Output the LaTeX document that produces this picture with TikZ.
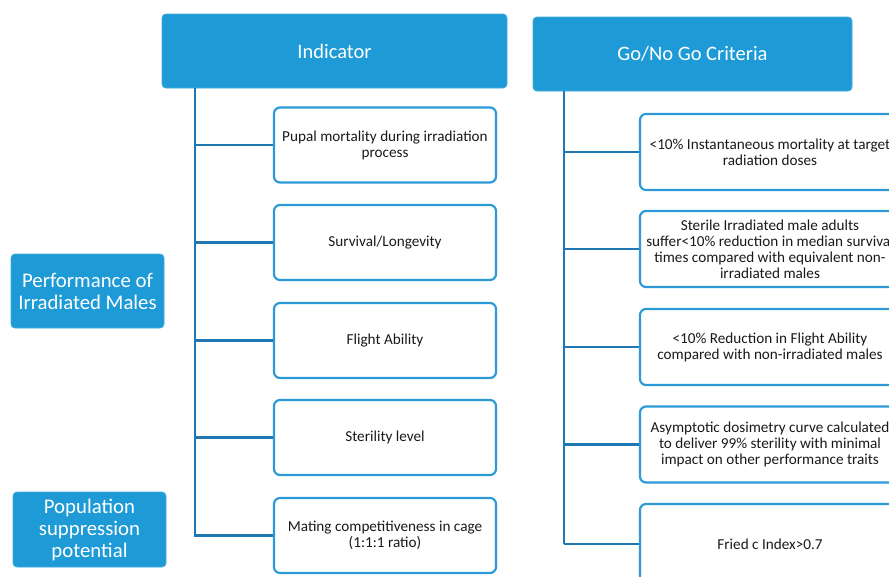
\documentclass[tikz,border=0pt]{standalone}
\usepackage{fontspec}
\setmainfont{Carlito}
\definecolor{hdr}{HTML}{1E9BD7}
\definecolor{edge}{HTML}{2B9AD6}
\definecolor{conn}{HTML}{1F78B4}
\definecolor{txt}{HTML}{1A1A1A}
\begin{document}
\begin{tikzpicture}[x=1pt,y=-1pt,
  hdrbox/.style={fill=hdr, draw=hdr!85!white, line width=0.8pt, rounded corners=4pt, align=center, text=white, inner sep=0pt},
  hdrfont/.style={font=\fontsize{20.5}{22}\selectfont},
  sidefont/.style={font=\fontsize{20.8}{22}\selectfont},
  itembox/.style={draw=edge, line width=2.2pt, fill=white, rounded corners=6pt, align=center, text=txt, font=\fontsize{15.2}{16}\selectfont, inner sep=0pt},
  link/.style={draw=conn, line width=2.2pt}]
\path[use as bounding box] (0,0) rectangle (889,576);
\clip (0,0) rectangle (889,576);
\fill[white] (0,0) rectangle (889,576);

% headers
\node[hdrbox, hdrfont, minimum width=345pt, minimum height=74pt] (ind) at (334.5,51) {Indicator};
\node[hdrbox, hdrfont, minimum width=319pt, minimum height=74pt] (go) at (692.5,54) {Go/No Go Criteria};
\node[hdrbox, sidefont, minimum width=153pt, minimum height=74pt] (perf) at (87.5,291) {Performance of\\Irradiated Males};
\node[hdrbox, sidefont, minimum width=153pt, minimum height=75pt] (pop) at (89.5,529.5) {Population\\suppression\\potential};

% indicator items
\node[itembox, minimum width=222pt, minimum height=75pt] (i1) at (385,145) {Pupal mortality during irradiation\\process};
\node[itembox, minimum width=222pt, minimum height=75pt] (i2) at (385,242.5) {Survival/Longevity};
\node[itembox, minimum width=222pt, minimum height=75pt] (i3) at (385,340.5) {Flight Ability};
\node[itembox, minimum width=222pt, minimum height=75pt] (i4) at (385,437.5) {Sterility level};
\node[itembox, minimum width=222pt, minimum height=75pt] (i5) at (385,535.5) {Mating competitiveness in cage\\(1:1:1 ratio)};

% criteria items
\node[itembox, minimum width=260pt, minimum height=76pt] (c1) at (770,152) {<10\% Instantaneous mortality at target\\radiation doses};
\node[itembox, minimum width=260pt, minimum height=76pt] (c2) at (770,249) {Sterile Irradiated male adults\\suffer<10\% reduction in median survival\\times compared with equivalent non-\\irradiated males};
\node[itembox, minimum width=260pt, minimum height=76pt] (c3) at (770,347) {<10\% Reduction in Flight Ability\\compared with non-irradiated males};
\node[itembox, minimum width=260pt, minimum height=76pt] (c4) at (770,444.5) {Asymptotic dosimetry curve calculated\\to deliver 99\% sterility with minimal\\impact on other performance traits};
\node[itembox, minimum width=260pt, minimum height=80pt] (c5) at (770,544) {Fried c Index>0.7};

% indicator tree
\coordinate (ti) at (195,537);
\draw[link] (ind.south -| ti) -- (ti);
\foreach \n in {i1,i2,i3,i4,i5} \draw[link] (\n.west -| ti) -- (\n.west);

% criteria tree
\coordinate (tc) at (564,544);
\draw[link] (go.south -| tc) -- (tc);
\foreach \n in {c1,c2,c3,c4,c5} \draw[link] (\n.west -| tc) -- (\n.west);
\end{tikzpicture}
\end{document}
